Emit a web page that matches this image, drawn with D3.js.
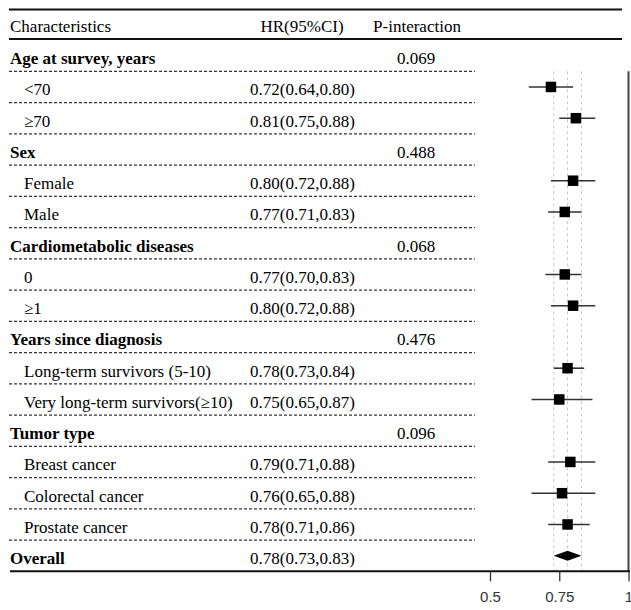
<!DOCTYPE html>
<html>
<head>
<meta charset="utf-8">
<script src="https://cdn.jsdelivr.net/npm/d3@7"></script>
<style>
  html, body { margin: 0; padding: 0; background: #fff; }
  svg { display: block; }
</style>
</head>
<body>
<svg id="chart" width="631" height="610"></svg>
<script>
// ---- data ----
const labels = ["Age at survey, years", "<70", "\u226570", "Sex", "Female", "Male",
  "Cardiometabolic diseases", "0", "\u22651", "Years since diagnosis",
  "Long-term survivors (5-10)", "Very long-term survivors(\u226510)", "Tumor type",
  "Breast cancer", "Colorectal cancer", "Prostate cancer", "Overall"];
const isGroup = [true, false, false, true, false, false, true, false, false, true,
  false, false, true, false, false, false, true];
const hr    = [null, 0.72, 0.81, null, 0.80, 0.77, null, 0.77, 0.80, null, 0.78, 0.75, null, 0.79, 0.76, 0.78, 0.78];
const lower = [null, 0.64, 0.75, null, 0.72, 0.71, null, 0.70, 0.72, null, 0.73, 0.65, null, 0.71, 0.65, 0.71, 0.73];
const upper = [null, 0.80, 0.88, null, 0.88, 0.83, null, 0.83, 0.88, null, 0.84, 0.87, null, 0.88, 0.88, 0.86, 0.83];
const pInteraction = ["0.069", null, null, "0.488", null, null, "0.068", null, null, "0.476", null, null, "0.096", null, null, null, null];
const headers = ["Characteristics", "HR(95%CI)", "P-interaction"];
const tickValues = [0.5, 0.75, 1];
const tickLabels = ["0.5", "0.75", "1"];
const refLines = [0.73, 0.78, 0.83];
const nullValue = 1;

// ---- layout ----
const svg = d3.select("#chart");
const serif = "'Liberation Serif', 'Times New Roman', serif";
const n = labels.length;
const y = d3.scaleLinear().domain([0, n - 1]).range([55.7, 555.7]);
const rowH = (y(1) - y(0));
const x = d3.scaleLinear().domain([0.5, 1]).range([490, 628.5]);
const fmt = d3.format(".2f");

const tableLeft = 9, tableRight = 475, lineRight = 622;
const plotTop = y(0) + rowH / 2;
const plotBottom = y(n - 1) + rowH / 2;
const textDy = 8.5;

// top & header rules
svg.append("line").attr("x1", tableLeft).attr("x2", lineRight).attr("y1", 9.5).attr("y2", 9.5)
  .attr("stroke", "#111").attr("stroke-width", 2);
svg.append("line").attr("x1", tableLeft).attr("x2", lineRight).attr("y1", 39).attr("y2", 39)
  .attr("stroke", "#111").attr("stroke-width", 2);

// header text
const hdr = svg.append("g").attr("font-family", serif).attr("font-size", 17).attr("fill", "#000");
hdr.append("text").attr("x", 10).attr("y", 31.5).text(headers[0]);
hdr.append("text").attr("x", 302).attr("y", 31.5).attr("text-anchor", "middle").text(headers[1]);
hdr.append("text").attr("x", 417).attr("y", 31.5).attr("text-anchor", "middle").text(headers[2]);

// dashed separators
svg.append("g").selectAll("line").data(d3.range(n - 1)).join("line")
  .attr("x1", tableLeft).attr("x2", tableRight)
  .attr("y1", i => y(i) + rowH / 2).attr("y2", i => y(i) + rowH / 2)
  .attr("stroke", "#333").attr("stroke-width", 1.3).attr("stroke-dasharray", "3,2");

// rows text
const rows = svg.append("g").attr("font-family", serif).attr("font-size", 17).attr("fill", "#000");
rows.selectAll("text.lab").data(labels).join("text").attr("class", "lab")
  .attr("x", (d, i) => isGroup[i] ? 10 : 24)
  .attr("y", (d, i) => y(i) + textDy)
  .attr("font-weight", (d, i) => isGroup[i] ? "bold" : "normal")
  .text(d => d);
rows.selectAll("text.hr").data(d3.range(n).filter(i => hr[i] !== null)).join("text").attr("class", "hr")
  .attr("x", 250).attr("y", i => y(i) + textDy)
  .text(i => `${fmt(hr[i])}(${fmt(lower[i])},${fmt(upper[i])})`);
rows.selectAll("text.p").data(d3.range(n).filter(i => pInteraction[i] !== null)).join("text").attr("class", "p")
  .attr("x", 416).attr("y", i => y(i) + textDy).attr("text-anchor", "middle")
  .text(i => pInteraction[i]);

// reference dashed lines
svg.append("g").selectAll("line").data(refLines).join("line")
  .attr("x1", d => x(d)).attr("x2", d => x(d))
  .attr("y1", plotTop).attr("y2", plotBottom)
  .attr("stroke", "#c8c8c8").attr("stroke-width", 1).attr("stroke-dasharray", "3,3");

// null line
svg.append("line").attr("x1", x(nullValue)).attr("x2", x(nullValue))
  .attr("y1", plotTop).attr("y2", plotBottom)
  .attr("stroke", "#444").attr("stroke-width", 2);

// CIs & boxes
const pts = d3.range(n).filter(i => hr[i] !== null && i !== n - 1);
const g = svg.append("g");
g.selectAll("line.ci").data(pts).join("line").attr("class", "ci")
  .attr("x1", i => x(lower[i])).attr("x2", i => x(upper[i]))
  .attr("y1", i => y(i)).attr("y2", i => y(i))
  .attr("stroke", "#333").attr("stroke-width", 1.6);
const bs = 10.5;
g.selectAll("rect.box").data(pts).join("rect").attr("class", "box")
  .attr("x", i => x(hr[i]) - bs / 2).attr("y", i => y(i) - bs / 2)
  .attr("width", bs).attr("height", bs).attr("fill", "#000");

// overall diamond
const oi = n - 1;
g.append("path")
  .attr("d", `M${x(lower[oi])},${y(oi)} L${x(hr[oi])},${y(oi) - 5} L${x(upper[oi])},${y(oi)} L${x(hr[oi])},${y(oi) + 5} Z`)
  .attr("fill", "#000");

// bottom rule
svg.append("line").attr("x1", 10).attr("x2", 630).attr("y1", plotBottom).attr("y2", plotBottom)
  .attr("stroke", "#111").attr("stroke-width", 2);

// axis
const axis = d3.axisBottom(x).tickValues(tickValues).tickSize(10).tickPadding(10)
  .tickFormat((d, i) => tickLabels[i]);
const ax = svg.append("g").attr("transform", `translate(0,${plotBottom})`).call(axis);
ax.select(".domain").remove();
ax.selectAll(".tick line").attr("stroke", "#333").attr("stroke-width", 1.3);
ax.selectAll(".tick text").attr("font-family", "'Liberation Sans', Arial, sans-serif")
  .attr("font-size", 15).attr("fill", "#333");
</script>
</body>
</html>
